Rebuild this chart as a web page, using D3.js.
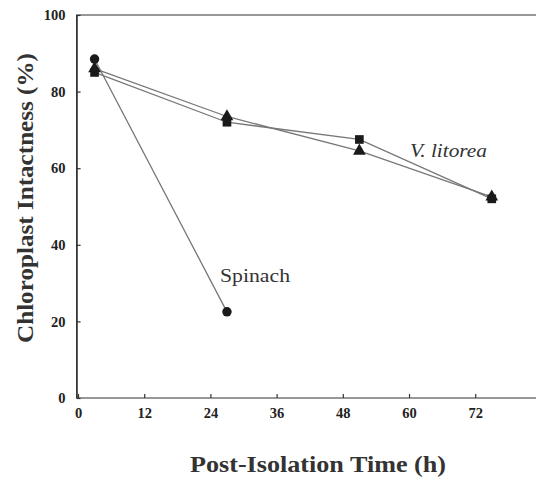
<!DOCTYPE html>
<html><head><meta charset="utf-8">
<script src="https://cdn.jsdelivr.net/npm/d3@7"></script>
<style>body{margin:0;background:#fff}svg{display:block}</style>
</head><body>
<script>
const xTicks = [0, 12, 24, 36, 48, 60, 72];
const yTicks = [0, 20, 40, 60, 80, 100];
const triTime = [3, 27, 51, 75];
const triValue = [86, 73.5, 64.5, 52.5];
const sqTime = [3, 27, 51, 75];
const sqValue = [85, 72, 67.5, 52];
const spTime = [3, 27];
const spValue = [88.5, 22.5];

const W = 536, H = 478;
const svg = d3.select("body").append("svg").attr("width", W).attr("height", H);
const x = d3.scaleLinear().domain([0, 84]).range([78, 78 + 84 * 5.517]);
const y = d3.scaleLinear().domain([0, 100]).range([398, 15]);
const serif = "'Liberation Serif','Times New Roman',serif";

svg.append("path").attr("d", `M${x(-0.25)},${y(0)}V${y(100)}H${W}`)
  .attr("fill", "none").attr("stroke", "#333").attr("stroke-width", 1.2);
const xa = svg.append("g").attr("transform", `translate(0,${y(0)})`)
  .call(d3.axisBottom(x).tickValues(xTicks).tickSizeInner(-4).tickSizeOuter(0).tickPadding(10));
xa.select(".domain").attr("d", `M${x(-0.25)},0H${W}`);
const ya = svg.append("g").attr("transform", `translate(${x(-0.25)},0)`)
  .call(d3.axisLeft(y).tickValues(yTicks).tickSizeInner(-4).tickSizeOuter(0).tickPadding(11));
[xa, ya].forEach(a => {
  a.selectAll("line,path").attr("stroke", "#333").attr("stroke-width", 1.2);
  a.selectAll("text").attr("font-family", serif).attr("font-weight", "bold")
    .attr("font-size", 14.5).attr("fill", "#222");
});

const line = d3.line().x(d => x(d[0])).y(d => y(d[1]));
const tri = triTime.map((t, i) => [t, triValue[i]]);
const sq = sqTime.map((t, i) => [t, sqValue[i]]);
const sp = spTime.map((t, i) => [t, spValue[i]]);
[tri, sq, sp].forEach(s => svg.append("path").attr("d", line(s))
  .attr("fill", "none").attr("stroke", "#777").attr("stroke-width", 1.3));

const sym = (type, size) => d3.symbol().type(type).size(size)();
const mk = (data, type, size) => svg.append("g").selectAll("path").data(data).join("path")
  .attr("transform", d => `translate(${x(d[0])},${y(d[1])})`)
  .attr("d", sym(type, size)).attr("fill", "#1a1a1a");
mk(sp, d3.symbolCircle, 70);
mk(tri, d3.symbolTriangle, 70);
mk(sq, d3.symbolSquare, 75);

svg.append("text").attr("x", 410).attr("y", 157).text("V. litorea")
  .attr("font-family", serif).attr("font-style", "italic").attr("font-size", 18)
  .attr("textLength", 77).attr("lengthAdjust", "spacingAndGlyphs").attr("fill", "#333");
svg.append("text").attr("x", 220).attr("y", 282).text("Spinach")
  .attr("font-family", serif).attr("font-size", 18)
  .attr("textLength", 70).attr("lengthAdjust", "spacingAndGlyphs").attr("fill", "#333");

svg.append("text").attr("transform", `translate(33,198) rotate(-90)`).attr("text-anchor", "middle")
  .text("Chloroplast Intactness (%)").attr("font-family", serif).attr("font-weight", "bold")
  .attr("font-size", 23).attr("textLength", 290).attr("lengthAdjust", "spacingAndGlyphs").attr("fill", "#333");
svg.append("text").attr("x", 318).attr("y", 472).attr("text-anchor", "middle")
  .text("Post-Isolation Time (h)").attr("font-family", serif).attr("font-weight", "bold")
  .attr("font-size", 23).attr("textLength", 256).attr("lengthAdjust", "spacingAndGlyphs").attr("fill", "#333");
</script>
</body></html>
